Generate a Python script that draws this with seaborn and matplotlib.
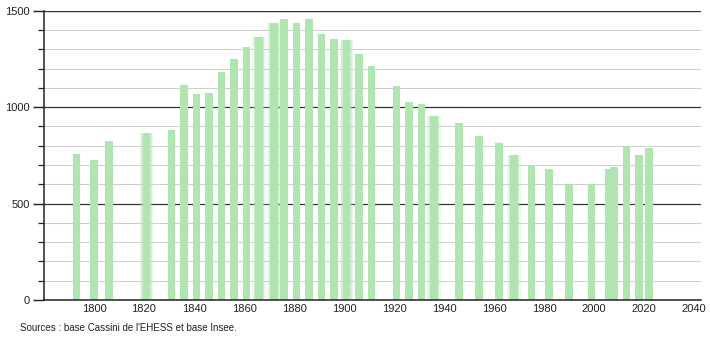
import matplotlib
matplotlib.use("Agg")
import matplotlib.pyplot as plt
import seaborn as sns
import numpy as np
import pandas as pd

years = [1793, 1800, 1806, 1821, 1831, 1836, 1841, 1846, 1851, 1856,
         1861, 1866, 1872, 1876, 1881, 1886, 1891, 1896, 1901, 1906,
         1911, 1921, 1926, 1931, 1936, 1946, 1954, 1962, 1968, 1975,
         1982, 1990, 1999, 2006, 2008, 2013, 2018, 2022]
population = [757, 726, 824, 866, 881, 1115, 1068, 1073, 1184, 1249,
              1311, 1363, 1436, 1457, 1436, 1457, 1379, 1353, 1348, 1275,
              1213, 1109, 1026, 1016, 954, 916, 850, 814, 752, 695,
              679, 601, 601, 679, 690, 798, 752, 788]
blurred_years = [1821, 1866, 1872, 1901, 1936, 1968]
x_ticks = list(range(1800, 2041, 20))
y_ticks = [0, 500, 1000, 1500]
source_text = "Sources : base Cassini de l'EHESS et base Insee."

df = pd.DataFrame({"year": years, "population": population})
df_blur = df[df["year"].isin(blurred_years)]

sns.set_style("white")
plt.rcParams["font.family"] = ["Liberation Sans", "DejaVu Sans"]

fig = plt.figure(figsize=(7.1, 3.4), dpi=100)
ax = fig.add_axes([44 / 710, 40 / 340, (700.7 - 44) / 710, (300 - 10.7) / 340])

# grid lines
for v in range(100, 1500, 100):
    if v % 500 == 0:
        ax.axhline(v, color="#333333", lw=0.9, zorder=0)
    else:
        ax.axhline(v, color="#cfcfcf", lw=0.75, zorder=0)
ax.axhline(1500, color="#333333", lw=1.0, zorder=0)

bar_years = 3.0  # bar width in years
min_gap = np.min(np.diff(sorted(df["year"])))
blur_gap = np.min(np.diff(sorted(df_blur["year"])))

# soft halo for blurred bars
for extra, alpha in [(2.4, 0.25), (1.2, 0.45)]:
    sns.barplot(data=df_blur, x="year", y="population", native_scale=True,
                width=(bar_years + extra) / blur_gap, color="#b0e4b0", saturation=1,
                edgecolor="none", errorbar=None, ax=ax, zorder=1, alpha=alpha)

sns.barplot(data=df, x="year", y="population", native_scale=True,
            width=bar_years / min_gap, color="#b0e4b0", saturation=1, edgecolor="none",
            errorbar=None, ax=ax, zorder=2)

ax.set_xlim(1780, 2042.6)
ax.set_ylim(0, 1500)
ax.set_xticks(x_ticks)
ax.set_xticklabels([str(t) for t in x_ticks], fontsize=8, color="#222222")
ax.set_yticks(y_ticks)
ax.set_yticklabels([str(t) for t in y_ticks], fontsize=8, color="#222222")
ax.set_yticks(list(range(0, 1501, 100)), minor=True)
ax.tick_params(axis="x", length=0, pad=3)
ax.tick_params(axis="y", which="major", length=8, width=1, color="#222222", pad=2, direction="out", left=True)
ax.tick_params(axis="y", which="minor", length=4, width=0.9, color="#222222", direction="out", left=True)
ax.set_xlabel("")
ax.set_ylabel("")
for s in ["top", "right"]:
    ax.spines[s].set_visible(False)
ax.spines["left"].set_color("#222222")
ax.spines["bottom"].set_color("#222222")
ax.spines["left"].set_linewidth(1.1)
ax.spines["bottom"].set_linewidth(1.1)

fig.text(20 / 710, 1 - 328 / 340, source_text, fontsize=7, color="#222222", va="center", ha="left")

fig.savefig("out.png", dpi=100, facecolor="white")
